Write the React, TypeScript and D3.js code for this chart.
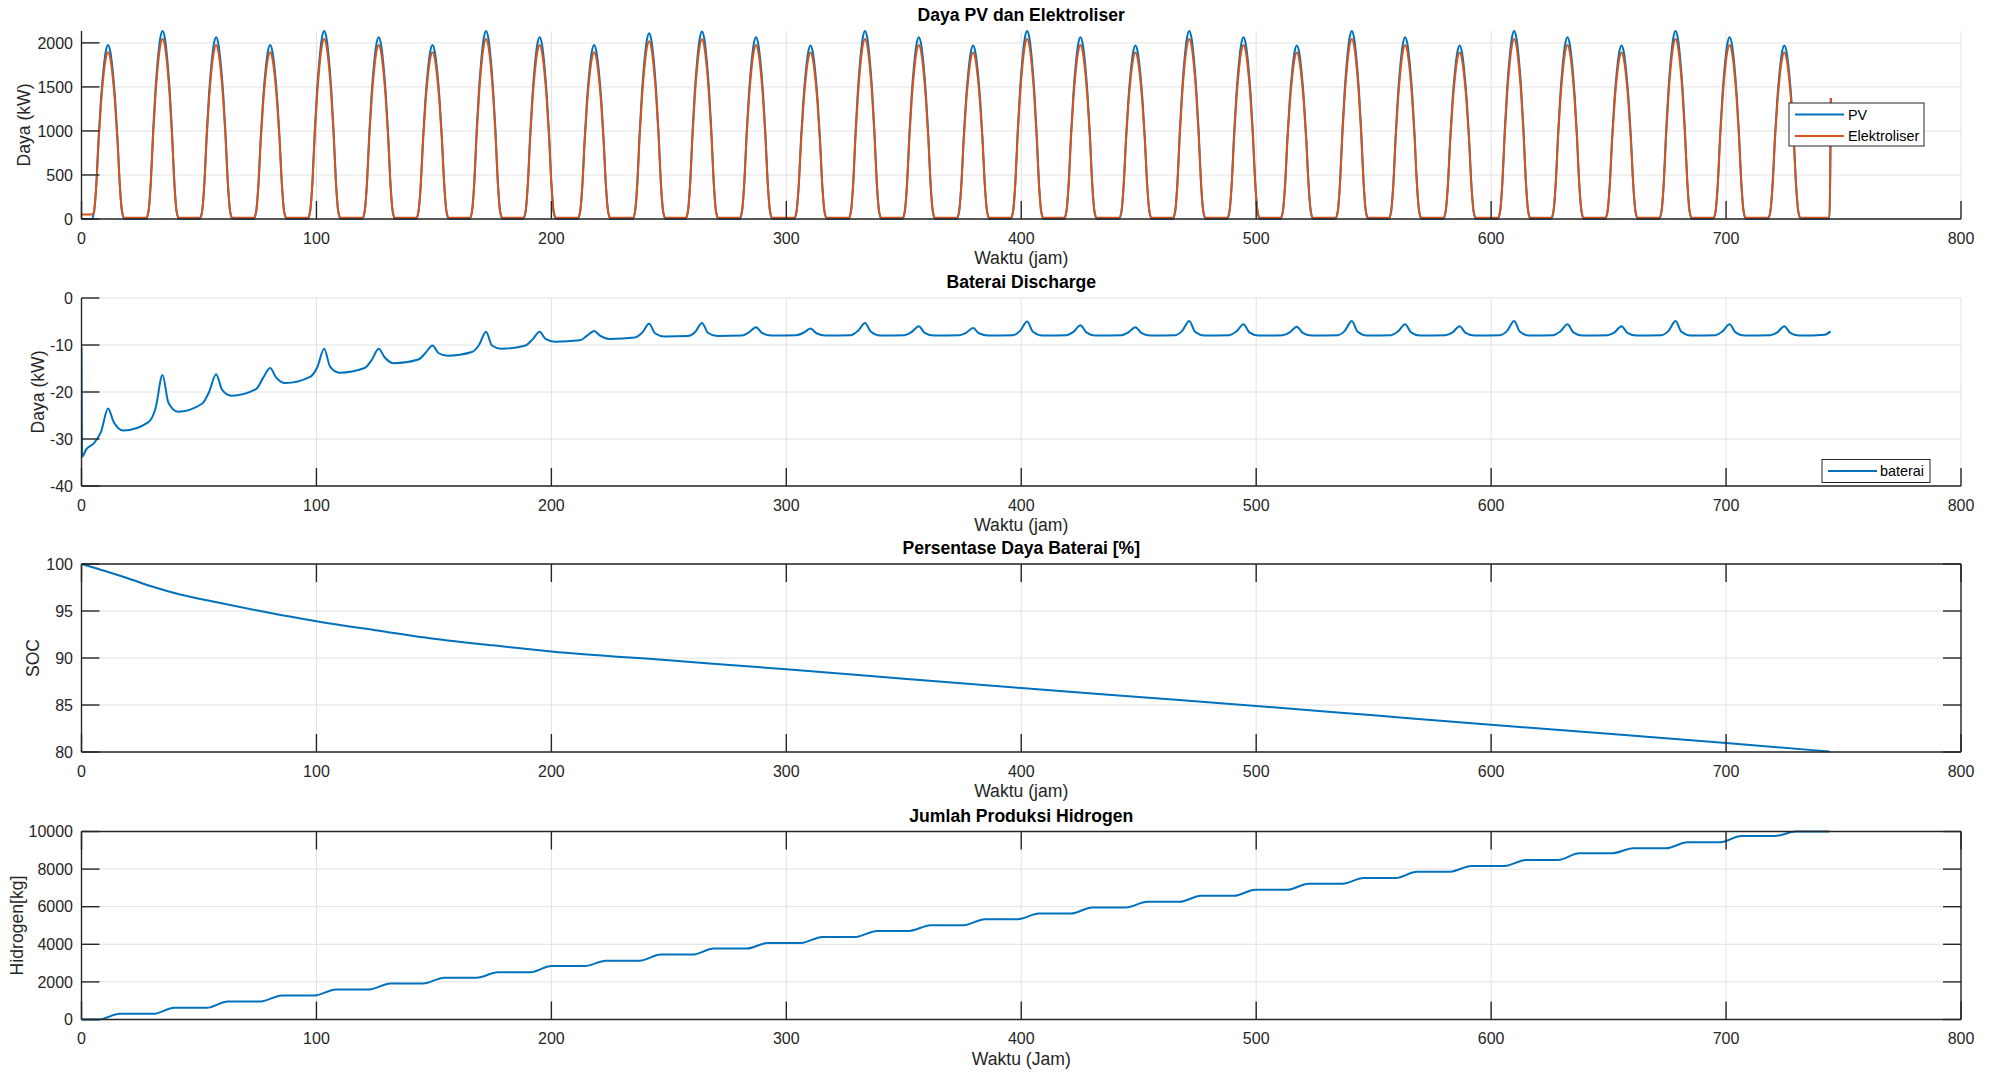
import React from 'react';
import * as d3 from 'd3';

const WIDTH = 1998;
const HEIGHT = 1074;
const LEFT = 81.5;
const RIGHT = 1961;
const PANEL_TOP = [31, 298, 564, 831.5];
const PANEL_H = 188;
const TICK = 18;
const FONT = '"Liberation Sans", Arial, Helvetica, sans-serif';
const BLUE = '#0072BD';
const ORANGE = '#D95319';
const AXIS = '#262626';
const GRID = '#e2e2e2';

const hourTicks = [0, 100, 200, 300, 400, 500, 600, 700, 800];

// hour of each daily solar peak
const peakHour = [
  11.3, 34.5, 57.3, 80.3, 103.3, 126.5, 149.4, 172.2, 195.0, 218.2, 241.6, 264.1,
  287.1, 310.3, 333.5, 356.4, 379.5, 402.5, 425.2, 448.6, 471.5, 494.6, 517.3, 540.7,
  563.4, 586.6, 609.8, 632.5, 655.5, 678.5, 701.5, 724.8,
];
const pvPeak = [
  1975, 2135, 2065, 1975, 2135, 2065, 1975, 2135, 2065, 1975, 2110, 2130,
  2065, 1970, 2135, 2065, 1970, 2135, 2065, 1970, 2135, 2065, 1970, 2135,
  2065, 1970, 2135, 2065, 1970, 2135, 2065, 1970,
];
const elPeak = [
  1895, 2045, 1975, 1895, 2045, 1975, 1895, 2045, 1975, 1895, 2020, 2040,
  1975, 1890, 2045, 1975, 1890, 2045, 1975, 1890, 2045, 1975, 1890, 2045,
  1975, 1890, 2045, 1975, 1890, 2045, 1975, 1890,
];
// shape of one day around its peak (hours from peak, share of the peak)
const dayOffset = [-7, -6, -5, -4, -3, -2, -1, 0, 1, 2, 3, 4, 5, 6, 7];
const dayShare = [0, 0.04, 0.2, 0.47, 0.69, 0.85, 0.96, 1, 0.96, 0.85, 0.69, 0.47, 0.2, 0.04, 0];
const pvLead: [number, number][] = [[0, 0], [4.3, 0]];
const pvTail: [number, number][] = [[744, 0], [744.6, 1375]];
const elNight = 15;
const elLead: [number, number][] = [[0, 50], [4.3, 50]];
const elTail: [number, number][] = [[744, 15], [744.6, 1375]];

// battery discharge around each peak: at peak-6, peak-3, peak, peak+2.5, peak+6.5
const batOffset = [-6, -3, 0, 2.5, 6.5];
const batPre = [
  -30.9, -26.4, -22.5, -19.4, -16.8, -14.9, -13.1, -11.5, -10.1, -9.0, -8.4, -8.1,
  -8.0, -7.9, -7.9, -7.9, -7.9, -7.9, -7.9, -7.9, -7.9, -7.9, -7.9, -7.9,
  -7.9, -7.9, -7.9, -7.9, -7.9, -7.9, -7.9, -7.9,
];
const batRise = [
  -28.5, -23.5, -20.0, -17.0, -14.8, -13.2, -11.7, -10.0, -8.8, -8.0, -7.4, -7.3,
  -7.3, -7.4, -7.0, -7.2, -7.4, -7.0, -7.2, -7.3, -7.0, -7.1, -7.3, -7.0,
  -7.1, -7.3, -7.0, -7.1, -7.3, -7.0, -7.1, -7.3,
];
const batPeak = [
  -23.5, -16.4, -16.2, -14.9, -10.8, -10.8, -10.1, -7.2, -7.2, -7.0, -5.5, -5.3,
  -6.2, -6.5, -5.3, -6.0, -6.4, -5.0, -5.8, -6.2, -4.9, -5.6, -6.1, -4.9,
  -5.6, -6.0, -4.9, -5.6, -6.0, -4.9, -5.6, -6.0,
];
const batDip = [
  -26.5, -22.3, -19.5, -16.9, -14.6, -12.6, -11.7, -10.1, -8.7, -8.0, -7.5, -7.4,
  -7.4, -7.5, -7.2, -7.4, -7.5, -7.2, -7.3, -7.4, -7.2, -7.3, -7.4, -7.2,
  -7.3, -7.4, -7.2, -7.3, -7.4, -7.2, -7.3, -7.4,
];
const batLow = [
  -28.2, -24.2, -20.8, -18.1, -15.9, -13.9, -12.3, -10.8, -9.3, -8.7, -8.2, -8.1,
  -8.0, -8.0, -8.0, -8.0, -8.0, -8.0, -8.0, -8.0, -8.0, -8.0, -8.0, -8.0,
  -8.0, -8.0, -8.0, -8.0, -8.0, -8.0, -8.0, -8.0,
];
const batLead: [number, number][] = [[0, -10.4], [0.3, -33.8], [2, -32.2]];
const batTail: [number, number][] = [[742, -7.8], [744.5, -7.1]];

const socHour = [0, 10, 20, 30, 42, 56, 75, 100, 125, 150, 175, 200, 250, 300, 350, 400, 450, 500, 550, 600, 650, 700, 744];
const socValue = [100, 99.25, 98.45, 97.6, 96.75, 96.0, 95.05, 93.9, 92.95, 92.05, 91.35, 90.7, 89.75, 88.8, 87.8, 86.8, 85.85, 84.9, 83.9, 82.9, 81.95, 80.95, 80.05];

// cumulative hydrogen after each day (kg)
const h2Level = [
  302, 623, 960, 1280, 1600, 1920, 2220, 2508, 2846, 3131, 3451, 3771,
  4074, 4394, 4714, 5017, 5337, 5640, 5960, 6262, 6582, 6903, 7223, 7525,
  7863, 8170, 8490, 8840, 9110, 9430, 9760, 10000,
];
const h2Before = -4;
const h2After = 5;

const pvTicks = [0, 500, 1000, 1500, 2000];
const batTicks = [-40, -30, -20, -10, 0];
const socTicks = [80, 85, 90, 95, 100];
const h2Ticks = [0, 2000, 4000, 6000, 8000, 10000];

type Pt = [number, number];

function solarSeries(peaks: number[], night: number, lead: Pt[], tail: Pt[]): Pt[] {
  const pts: Pt[] = [...lead];
  peakHour.forEach((p, k) => {
    dayOffset.forEach((off, j) => {
      if (k === 0 && j === 0) return;
      pts.push([p + off, Math.max(night, peaks[k] * dayShare[j])]);
    });
  });
  return pts.concat(tail);
}

function batterySeries(): Pt[] {
  const pts: Pt[] = [...batLead];
  const cols = [batPre, batRise, batPeak, batDip, batLow];
  peakHour.forEach((p, k) => {
    batOffset.forEach((off, j) => pts.push([p + off, cols[j][k]]));
  });
  return pts.concat(batTail);
}

function hydrogenSeries(): Pt[] {
  const pts: Pt[] = [[0, 0]];
  peakHour.forEach((p, k) => {
    pts.push([p + h2Before, k === 0 ? 0 : h2Level[k - 1]]);
    pts.push([p + h2After, h2Level[k]]);
  });
  pts.push([744, h2Level[h2Level.length - 1]]);
  return pts;
}

const panels = [
  { title: 'Daya PV dan Elektroliser', xLabel: 'Waktu (jam)', yLabel: 'Daya (kW)', yLabelX: 24, domain: [0, 2135], ticks: pvTicks, box: false },
  { title: 'Baterai Discharge', xLabel: 'Waktu (jam)', yLabel: 'Daya (kW)', yLabelX: 38, domain: [-40, 0], ticks: batTicks, box: false },
  { title: 'Persentase Daya Baterai [%]', xLabel: 'Waktu (jam)', yLabel: 'SOC', yLabelX: 33, domain: [80, 100], ticks: socTicks, box: true },
  { title: 'Jumlah Produksi Hidrogen', xLabel: 'Waktu (Jam)', yLabel: 'Hidrogen[kg]', yLabelX: 16.6, domain: [0, 10000], ticks: h2Ticks, box: true },
];

export default function App() {
  const x = d3.scaleLinear().domain([0, 800]).range([LEFT, RIGHT]);

  const series: { pts: Pt[]; color: string }[][] = [
    [
      { pts: solarSeries(pvPeak, 0, pvLead, pvTail), color: BLUE },
      { pts: solarSeries(elPeak, elNight, elLead, elTail), color: ORANGE },
    ],
    [{ pts: batterySeries(), color: BLUE }],
    [{ pts: socHour.map((h, i) => [h, socValue[i]] as Pt), color: BLUE }],
    [{ pts: hydrogenSeries(), color: BLUE }],
  ];

  return (
    <svg
      xmlns="http://www.w3.org/2000/svg"
      width={WIDTH}
      height={HEIGHT}
      style={{ position: 'absolute', left: 0, top: 0, background: '#fff' }}
      fontFamily={FONT}
    >
      <rect x={0} y={0} width={WIDTH} height={HEIGHT} fill="#fff" />
      {panels.map((pn, i) => {
        const top = PANEL_TOP[i];
        const bottom = top + PANEL_H;
        const y = d3.scaleLinear().domain(pn.domain).range([bottom, top]);
        const line = d3.line<Pt>().x(d => x(d[0])).y(d => y(d[1])).curve(d3.curveMonotoneX);
        const midY = (top + bottom) / 2;
        return (
          <g key={i}>
            <defs>
              <clipPath id={`clip${i}`}>
                <rect x={LEFT} y={top - 2} width={RIGHT - LEFT} height={PANEL_H + 4} />
              </clipPath>
            </defs>
            {hourTicks.map(t => (
              <line key={`gx${t}`} x1={x(t)} x2={x(t)} y1={top} y2={bottom} stroke={GRID} strokeWidth={1} />
            ))}
            {pn.ticks.map(t => (
              <line key={`gy${t}`} x1={LEFT} x2={RIGHT} y1={y(t)} y2={y(t)} stroke={GRID} strokeWidth={1} />
            ))}
            <g clipPath={`url(#clip${i})`}>
              {series[i].map((s, j) => (
                <path key={j} d={line(s.pts) || ''} fill="none" stroke={s.color} strokeWidth={2} strokeLinejoin="round" />
              ))}
            </g>
            <line x1={LEFT} x2={RIGHT} y1={bottom} y2={bottom} stroke={AXIS} strokeWidth={1.4} />
            <line x1={LEFT} x2={LEFT} y1={top} y2={bottom} stroke={AXIS} strokeWidth={1.4} />
            {pn.box && (
              <>
                <line x1={LEFT} x2={RIGHT} y1={top} y2={top} stroke={AXIS} strokeWidth={1.4} />
                <line x1={RIGHT} x2={RIGHT} y1={top} y2={bottom} stroke={AXIS} strokeWidth={1.4} />
              </>
            )}
            {hourTicks.map(t => (
              <g key={`tx${t}`}>
                <line x1={x(t)} x2={x(t)} y1={bottom} y2={bottom - TICK} stroke={AXIS} strokeWidth={1.4} />
                {pn.box && <line x1={x(t)} x2={x(t)} y1={top} y2={top + TICK} stroke={AXIS} strokeWidth={1.4} />}
                <text x={x(t)} y={bottom + 24.5} textAnchor="middle" fontSize={16} fill={AXIS}>{t}</text>
              </g>
            ))}
            {pn.ticks.map(t => (
              <g key={`ty${t}`}>
                <line x1={LEFT} x2={LEFT + TICK} y1={y(t)} y2={y(t)} stroke={AXIS} strokeWidth={1.4} />
                {pn.box && <line x1={RIGHT - TICK} x2={RIGHT} y1={y(t)} y2={y(t)} stroke={AXIS} strokeWidth={1.4} />}
                <text x={LEFT - 8.5} y={y(t)} dy="0.36em" textAnchor="end" fontSize={16} fill={AXIS}>{String(t)}</text>
              </g>
            ))}
            <text x={(LEFT + RIGHT) / 2} y={top - 10} textAnchor="middle" fontSize={17.6} fontWeight="bold" fill="#000">{pn.title}</text>
            <text x={(LEFT + RIGHT) / 2} y={bottom + 45} textAnchor="middle" fontSize={17.6} fill={AXIS}>{pn.xLabel}</text>
            <text
              transform={`translate(${pn.yLabelX},${midY}) rotate(-90)`}
              textAnchor="middle"
              dominantBaseline="central"
              fontSize={17.6}
              fill={AXIS}
            >
              {pn.yLabel}
            </text>
          </g>
        );
      })}

      {/* legend, top panel */}
      <g>
        <rect x={1789} y={103} width={135} height={43} fill="#fff" stroke={AXIS} strokeWidth={1} />
        <line x1={1795} x2={1844} y1={114.5} y2={114.5} stroke={BLUE} strokeWidth={2} />
        <text x={1848} y={114.5} dy="0.36em" fontSize={14.4} fill="#000">PV</text>
        <line x1={1795} x2={1844} y1={136} y2={136} stroke={ORANGE} strokeWidth={2} />
        <text x={1848} y={136} dy="0.36em" fontSize={14.4} fill="#000">Elektroliser</text>
      </g>
      {/* legend, battery panel */}
      <g>
        <rect x={1822} y={459.5} width={108} height={23} fill="#fff" stroke={AXIS} strokeWidth={1} />
        <line x1={1828} x2={1877} y1={471} y2={471} stroke={BLUE} strokeWidth={2} />
        <text x={1880} y={471} dy="0.36em" fontSize={14.4} fill="#000">baterai</text>
      </g>
    </svg>
  );
}
